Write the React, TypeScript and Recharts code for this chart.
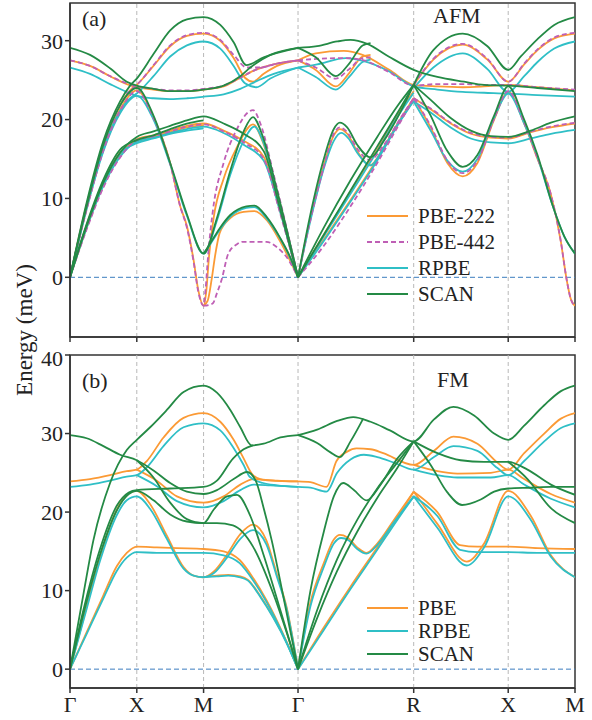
import React from "react";
import { LineChart, Line, XAxis, YAxis, ReferenceLine, ReferenceArea } from "recharts";

type Pt = [number, number];

// path positions along Γ-X-M-Γ-R-X-M (in units of the Γ-X length)
const kTicks = [0, 1, 2, 3.414, 5.146, 6.561, 7.561];
const kLabels = ["Γ", "X", "M", "Γ", "R", "X", "M"];
const K_MAX = 7.561;

const afmTicks = [0, 10, 20, 30];
const fmTicks = [0, 10, 20, 30, 40];

// AFM bands (meV), each band a list of [k, E]
const afmPbe222: Pt[][] = [
  [[0, 0], [0.25, 9.2], [0.5, 16.8], [0.75, 21.8], [0.9, 23.7], [1, 24.4], [1.25, 26.8], [1.5, 29.3], [1.75, 30.6], [2, 30.9], [2.25, 30.0], [2.45, 27.8], [2.62, 25.3], [2.74, 24.8], [2.9, 25.8], [3.1, 26.8], [3.414, 27.5]],
  [[0, 27.5], [0.3, 26.8], [0.6, 25.5], [0.85, 24.5], [1, 24.1], [1.25, 23.8], [1.5, 23.6], [1.75, 23.6], [2, 23.8], [2.3, 24.2], [2.55, 25.3], [2.75, 26.2], [3.05, 27.0], [3.414, 27.5]],
  [[0, 0], [0.25, 8.8], [0.5, 16.3], [0.75, 21.3], [1, 23.7], [1.25, 20.3], [1.5, 14.5], [1.65, 9.0], [1.75, 6.5], [1.85, 2.2], [1.92, -1.6], [2, -3.6], [2.04, -1.8], [2.08, 2.5], [2.15, 7.5], [2.3, 12.5], [2.5, 16.5], [2.74, 19.4], [2.88, 17.3], [3.1, 10.8], [3.414, 0]],
  [[0, 0], [0.25, 6.3], [0.5, 11.7], [0.75, 15.4], [1, 17.5], [1.25, 18.0], [1.5, 18.6], [1.75, 19.2], [2, 19.5], [2.3, 18.6], [2.6, 17.3], [2.9, 15.3], [3.15, 8.3], [3.414, 0]],
  [[0, 0], [0.25, 6.6], [0.5, 12.1], [0.75, 15.8], [1, 17.2], [1.25, 17.8], [1.5, 18.4], [1.75, 19.0], [2, 19.3]],
  [[2, -3.6], [2.06, -3.0], [2.12, -0.3], [2.17, 2.6], [2.24, 5.6], [2.4, 7.5], [2.6, 8.3], [2.76, 8.4], [2.95, 7.2], [3.15, 4.5], [3.414, 0]],
  [[3.414, 27.5], [3.68, 28.4], [4.1, 28.7], [4.38, 28.2], [4.78, 26.3], [5.146, 24.4], [5.5, 24.2], [5.88, 24.1], [6.2, 24.2], [6.561, 24.4], [7.0, 24.1], [7.561, 23.7]],
  [[3.414, 27.5], [3.68, 26.3], [3.98, 24.2], [4.18, 25.9], [4.38, 28.0], [4.5, 28.2]],
  [[5.146, 24.4], [5.44, 27.6], [5.88, 29.5], [6.25, 27.6], [6.561, 24.8], [6.8, 27.0], [7.0, 28.8], [7.25, 30.3], [7.561, 30.9]],
  [[3.414, 0], [3.8, 4.8], [4.2, 9.8], [4.6, 15.0], [4.9, 19.4], [5.146, 22.7]],
  [[3.414, 0], [3.8, 5.4], [4.2, 10.8], [4.6, 16.2], [4.9, 20.6], [5.146, 23.6]],
  [[3.414, 0], [3.6, 7.5], [3.8, 14.2], [3.95, 18.0], [4.04, 18.8], [4.15, 18.2], [4.3, 16.0], [4.49, 14.2], [4.7, 16.5], [4.95, 20.0], [5.146, 22.7]],
  [[5.146, 22.7], [5.4, 21.3], [5.7, 19.5], [6.0, 18.2], [6.3, 17.7], [6.561, 17.6], [6.9, 18.4], [7.2, 19.0], [7.561, 19.5]],
  [[5.146, 22.7], [5.4, 19.0], [5.65, 14.5], [5.88, 12.8], [6.1, 14.5], [6.35, 20.0], [6.561, 23.5], [6.8, 19.5], [7.0, 15.0], [7.2, 10.5], [7.35, 4.5], [7.43, 0], [7.5, -2.8], [7.561, -3.6]],
];

const afmPbe442: Pt[][] = [
  [[0, 0], [0.25, 9.2], [0.5, 16.8], [0.75, 21.8], [0.9, 23.7], [1, 24.4], [1.25, 26.9], [1.5, 29.4], [1.75, 30.7], [2, 31.0], [2.25, 30.1], [2.45, 28.2], [2.65, 26.6], [2.85, 26.6], [3.1, 27.1], [3.414, 27.5]],
  [[0, 27.5], [0.3, 26.8], [0.6, 25.5], [0.85, 24.6], [1, 24.2], [1.25, 23.9], [1.5, 23.7], [1.75, 23.7], [2, 23.9], [2.3, 24.3], [2.55, 25.3], [2.75, 26.2], [3.05, 27.0], [3.414, 27.5]],
  [[0, 0], [0.25, 8.6], [0.5, 16.1], [0.75, 21.1], [1, 23.6], [1.25, 20.2], [1.5, 14.4], [1.65, 9.0], [1.75, 6.3], [1.85, 2.0], [1.92, -1.8], [2, -3.6], [2.03, -1.5], [2.07, 3.0], [2.14, 8.5], [2.3, 14.5], [2.5, 18.8], [2.65, 20.8], [2.74, 21.2], [2.85, 19.5], [3.05, 13.0], [3.414, 0]],
  [[0, 0], [0.25, 6.1], [0.5, 11.4], [0.75, 15.2], [1, 17.4], [1.25, 17.9], [1.5, 18.5], [1.75, 19.1], [2, 19.4], [2.3, 18.5], [2.6, 17.1], [2.9, 15.0], [3.15, 8.0], [3.414, 0]],
  [[2, -3.6], [2.08, -3.5], [2.14, -3.3], [2.2, -2.0], [2.27, -0.3], [2.37, 3.0], [2.5, 4.2], [2.59, 4.5], [2.94, 4.5], [3.1, 3.8], [3.24, 2.6], [3.414, 0]],
  [[3.414, 27.5], [3.7, 27.7], [4.13, 27.8], [4.4, 27.5], [4.78, 26.0], [5.146, 24.3], [5.5, 24.5], [5.88, 24.5], [6.2, 24.4], [6.561, 24.4], [7.0, 24.1], [7.561, 23.8]],
  [[3.414, 27.5], [3.68, 26.6], [3.98, 25.2], [4.18, 26.4], [4.38, 27.8], [4.5, 27.9]],
  [[5.146, 24.4], [5.44, 27.7], [5.88, 29.6], [6.25, 27.7], [6.561, 24.8], [6.8, 27.1], [7.0, 28.9], [7.25, 30.4], [7.561, 31.0]],
  [[3.414, 0], [3.8, 4.0], [4.2, 9.0], [4.6, 14.5], [4.9, 19.0], [5.146, 22.7]],
  [[3.414, 0], [3.6, 7.3], [3.8, 14.0], [3.95, 18.2], [4.04, 19.0], [4.15, 18.4], [4.3, 16.3], [4.49, 14.9], [4.7, 16.8], [4.95, 20.2], [5.146, 22.7]],
  [[5.146, 22.7], [5.4, 21.4], [5.7, 19.6], [6.0, 18.3], [6.3, 17.8], [6.561, 17.7], [6.9, 18.5], [7.2, 19.1], [7.561, 19.6]],
  [[5.146, 22.7], [5.4, 19.2], [5.65, 14.8], [5.88, 13.2], [6.1, 14.8], [6.35, 20.1], [6.561, 23.6], [6.8, 19.6], [7.0, 15.1], [7.2, 10.5], [7.35, 4.5], [7.43, 0], [7.5, -2.8], [7.561, -3.6]],
];

const afmRpbe: Pt[][] = [
  [[0, 0], [0.25, 8.9], [0.5, 16.3], [0.75, 21.1], [0.9, 22.7], [1, 23.3], [1.25, 25.5], [1.5, 28.0], [1.75, 29.4], [2, 29.9], [2.25, 29.0], [2.45, 26.8], [2.62, 24.6], [2.79, 24.1], [3.0, 25.2], [3.414, 26.6]],
  [[0, 26.6], [0.3, 25.8], [0.6, 24.5], [0.85, 23.5], [1, 23.0], [1.25, 22.7], [1.5, 22.6], [1.75, 22.7], [2, 22.9], [2.3, 23.2], [2.55, 23.9], [2.8, 24.9], [3.05, 25.8], [3.414, 26.6]],
  [[0, 0], [0.25, 8.7], [0.5, 16.0], [0.75, 20.8], [1, 23.0], [1.25, 20.0], [1.5, 14.3], [1.75, 7.8], [2, 3.0], [2.2, 7.2], [2.4, 13.0], [2.6, 17.3], [2.76, 19.1], [2.9, 17.0], [3.1, 10.8], [3.414, 0]],
  [[0, 0], [0.25, 6.3], [0.5, 11.6], [0.75, 15.3], [1, 17.2], [1.25, 17.7], [1.5, 18.3], [1.75, 18.8], [2, 19.1], [2.3, 18.3], [2.6, 16.8], [2.9, 14.8], [3.15, 8.2], [3.414, 0]],
  [[0, 0], [0.25, 6.6], [0.5, 12.0], [0.75, 15.7], [1, 17.0], [1.25, 17.6], [1.5, 18.2], [1.75, 18.6], [2, 18.9]],
  [[2, 3.0], [2.1, 4.2], [2.24, 6.0], [2.4, 7.7], [2.64, 8.8], [2.76, 8.9], [2.95, 7.4], [3.14, 5.0], [3.3, 2.4], [3.414, 0]],
  [[3.414, 26.6], [3.7, 27.0], [4.13, 27.8], [4.4, 27.4], [4.78, 26.1], [5.146, 24.2], [5.5, 23.8], [5.88, 23.5], [6.2, 23.4], [6.561, 23.3], [7.0, 23.1], [7.561, 22.9]],
  [[3.414, 26.6], [3.68, 25.4], [3.98, 23.8], [4.18, 25.4], [4.38, 27.3], [4.5, 27.6]],
  [[5.146, 24.0], [5.44, 26.6], [5.88, 28.4], [6.25, 26.4], [6.561, 23.5], [6.8, 25.5], [7.0, 27.3], [7.25, 29.0], [7.561, 29.9]],
  [[3.414, 0], [3.8, 4.6], [4.2, 9.6], [4.6, 14.8], [4.9, 19.2], [5.146, 22.4]],
  [[3.414, 0], [3.8, 5.2], [4.2, 10.6], [4.6, 16.0], [4.9, 20.3], [5.146, 23.4]],
  [[3.414, 0], [3.6, 7.2], [3.8, 13.8], [3.95, 17.3], [4.06, 18.3], [4.17, 17.6], [4.3, 15.8], [4.5, 14.2], [4.7, 16.5], [4.95, 20.0], [5.146, 22.4]],
  [[5.146, 22.3], [5.4, 20.9], [5.7, 19.0], [6.0, 17.6], [6.3, 17.1], [6.561, 17.0], [6.9, 17.6], [7.2, 18.2], [7.561, 18.7]],
  [[5.146, 22.3], [5.4, 18.6], [5.65, 14.8], [5.88, 13.4], [6.1, 15.0], [6.35, 20.2], [6.561, 23.3], [6.8, 19.5], [7.0, 15.2], [7.23, 9.0], [7.4, 5.2], [7.561, 3.0]],
];

const afmScan: Pt[][] = [
  [[0, 0], [0.25, 9.5], [0.5, 17.3], [0.75, 22.3], [0.9, 24.3], [1, 25.2], [1.25, 28.3], [1.5, 31.3], [1.75, 32.7], [2, 33.0], [2.25, 32.0], [2.45, 29.8], [2.64, 26.9], [2.9, 27.9], [3.414, 29.1]],
  [[0, 29.1], [0.3, 28.2], [0.6, 26.5], [0.85, 24.8], [1, 24.3], [1.25, 23.9], [1.5, 23.6], [1.75, 23.6], [2, 23.8], [2.3, 24.3], [2.55, 25.5], [2.7, 26.6], [3.0, 28.2], [3.414, 29.1]],
  [[0, 0], [0.25, 9.0], [0.5, 16.8], [0.75, 21.8], [1, 24.0], [1.25, 20.5], [1.5, 14.5], [1.75, 8.0], [2, 3.0], [2.2, 7.5], [2.4, 13.5], [2.6, 18.5], [2.74, 20.3], [2.88, 18.0], [3.1, 11.0], [3.414, 0]],
  [[0, 0], [0.25, 6.5], [0.5, 12.0], [0.75, 15.8], [1, 17.8], [1.25, 18.5], [1.5, 19.2], [1.75, 19.9], [2, 20.4], [2.3, 19.5], [2.6, 18.2], [2.9, 16.0], [3.15, 8.5], [3.414, 0]],
  [[0, 0], [0.25, 6.8], [0.5, 12.4], [0.75, 16.2], [1, 17.4], [1.25, 18.0], [1.5, 18.8], [1.75, 19.5], [2, 19.9]],
  [[2, 3.0], [2.1, 4.3], [2.24, 6.2], [2.4, 7.9], [2.64, 9.0], [2.76, 9.1], [2.95, 7.6], [3.14, 5.1], [3.3, 2.5], [3.414, 0]],
  [[3.414, 29.1], [3.7, 29.3], [4.0, 29.9], [4.2, 30.1], [4.45, 29.6], [4.77, 28.0], [5.146, 26.3], [5.5, 25.4], [5.9, 24.8], [6.2, 24.4], [6.561, 24.3], [7.0, 24.0], [7.561, 23.6]],
  [[3.414, 29.1], [3.68, 27.9], [3.98, 25.5], [4.18, 27.1], [4.38, 29.4], [4.5, 29.7]],
  [[5.146, 24.4], [5.44, 28.8], [5.88, 30.9], [6.25, 29.3], [6.561, 26.3], [6.75, 28.0], [7.0, 30.2], [7.25, 32.0], [7.561, 33.0]],
  [[3.414, 0], [3.8, 6.3], [4.2, 12.3], [4.6, 17.8], [4.9, 21.7], [5.146, 24.4]],
  [[3.414, 0], [3.8, 5.4], [4.2, 11.0], [4.6, 16.6], [4.9, 20.8], [5.146, 24.4]],
  [[3.414, 0], [3.6, 8.0], [3.8, 15.0], [3.95, 18.8], [4.04, 19.6], [4.15, 19.0], [4.3, 16.8], [4.5, 15.2], [4.7, 17.3], [4.95, 21.0], [5.146, 24.4]],
  [[5.146, 24.4], [5.4, 22.5], [5.7, 20.2], [6.0, 18.6], [6.3, 17.9], [6.561, 17.8], [6.9, 18.6], [7.2, 19.6], [7.561, 20.4]],
  [[5.146, 24.4], [5.4, 20.5], [5.65, 16.0], [5.88, 14.0], [6.1, 15.5], [6.35, 20.5], [6.561, 24.2], [6.8, 20.0], [7.0, 15.5], [7.23, 9.0], [7.4, 5.2], [7.561, 3.0]],
];

// FM bands (meV)
const fmPbe: Pt[][] = [
  [[0, 23.9], [0.3, 24.2], [0.6, 24.7], [0.85, 25.2], [1, 25.4], [1.15, 26.5], [1.4, 29.5], [1.7, 32.0], [2, 32.6], [2.25, 31.5], [2.45, 29.2], [2.59, 27.0], [2.72, 24.9], [2.85, 24.2], [3.1, 24.0], [3.414, 23.9]],
  [[1, 25.4], [1.3, 24.0], [1.6, 22.0], [2, 21.2], [2.3, 22.0], [2.55, 23.5], [2.75, 24.2], [3.0, 24.0], [3.414, 23.9]],
  [[0, 0], [0.25, 8.0], [0.45, 14.3], [0.7, 20.3], [0.85, 22.2], [1, 22.7], [1.2, 21.0], [1.45, 17.0], [1.7, 13.0], [1.85, 11.9], [2, 11.7], [2.15, 12.4], [2.35, 14.6], [2.55, 17.2], [2.74, 18.4], [2.94, 16.4], [3.1, 12.0], [3.24, 8.0], [3.414, 0]],
  [[0, 0], [0.25, 4.7], [0.5, 9.4], [0.7, 13.1], [0.85, 14.8], [1, 15.6], [1.3, 15.5], [1.6, 15.4], [2, 15.3], [2.3, 15.0], [2.54, 13.9], [2.75, 11.5], [2.94, 8.8], [3.2, 4.3], [3.414, 0]],
  [[2, 11.7], [2.2, 11.9], [2.37, 12.0], [2.55, 11.8], [2.66, 11.4], [2.85, 9.3], [3.04, 6.7], [3.25, 3.3], [3.414, 0]],
  [[3.414, 23.9], [3.6, 23.8], [3.84, 23.2], [3.99, 26.5], [4.15, 27.7], [4.29, 28.1], [4.5, 28.0], [4.69, 27.5], [5.146, 26.0], [5.45, 27.8], [5.74, 29.6], [6.1, 28.7], [6.4, 26.3], [6.561, 25.4], [6.8, 27.5], [7.1, 30.0], [7.35, 31.9], [7.561, 32.6]],
  [[5.146, 26.0], [5.5, 25.2], [5.8, 24.9], [6.3, 25.0], [6.561, 25.4], [6.8, 24.2], [7.2, 22.3], [7.561, 21.2]],
  [[3.414, 0], [3.6, 8.5], [3.8, 13.5], [3.95, 16.5], [4.04, 17.1], [4.15, 16.8], [4.3, 15.5], [4.44, 14.8], [4.6, 16.0], [4.85, 19.0], [5.146, 22.6]],
  [[3.414, 0], [3.8, 5.3], [4.2, 10.5], [4.6, 15.5], [4.9, 19.3], [5.146, 22.6]],
  [[5.146, 22.6], [5.5, 20.0], [5.84, 15.8], [6.1, 15.6], [6.561, 15.6], [7.0, 15.4], [7.561, 15.3]],
  [[5.146, 22.6], [5.5, 18.5], [5.94, 13.7], [6.2, 16.0], [6.561, 22.7], [6.9, 19.5], [7.2, 14.5], [7.561, 11.7]],
];

const fmRpbe: Pt[][] = [
  [[0, 23.2], [0.3, 23.5], [0.6, 24.0], [0.85, 24.5], [1, 24.7], [1.15, 25.7], [1.4, 28.4], [1.7, 30.8], [2, 31.3], [2.25, 30.4], [2.44, 28.3], [2.6, 26.0], [2.69, 24.5], [2.89, 23.7], [3.1, 23.4], [3.414, 23.2]],
  [[1, 24.7], [1.3, 23.3], [1.6, 21.4], [2, 20.6], [2.3, 21.4], [2.55, 22.8], [2.75, 23.5], [3.0, 23.4], [3.414, 23.2]],
  [[0, 0], [0.25, 7.7], [0.45, 13.8], [0.7, 19.6], [0.85, 21.5], [1, 22.0], [1.2, 20.4], [1.45, 16.6], [1.7, 12.8], [1.85, 11.9], [2, 11.7], [2.15, 12.2], [2.35, 14.2], [2.55, 16.6], [2.74, 17.7], [2.94, 15.9], [3.1, 11.7], [3.24, 7.8], [3.414, 0]],
  [[0, 0], [0.25, 4.5], [0.5, 9.0], [0.7, 12.5], [0.85, 14.2], [1, 14.9], [1.3, 14.8], [1.6, 14.8], [2, 14.8], [2.3, 14.5], [2.54, 13.5], [2.75, 11.2], [2.94, 8.6], [3.2, 4.2], [3.414, 0]],
  [[2, 11.7], [2.2, 11.8], [2.37, 11.9], [2.55, 11.7], [2.66, 11.3], [2.85, 9.2], [3.04, 6.6], [3.25, 3.2], [3.414, 0]],
  [[3.414, 23.2], [3.6, 23.1], [3.84, 22.6], [4.0, 25.0], [4.2, 26.7], [4.4, 27.3], [4.6, 27.0], [4.85, 26.3], [5.146, 25.4], [5.45, 27.0], [5.74, 28.4], [6.1, 27.8], [6.4, 25.6], [6.561, 24.7], [6.8, 26.5], [7.1, 29.0], [7.35, 30.7], [7.561, 31.3]],
  [[5.146, 25.4], [5.5, 24.7], [5.8, 24.4], [6.3, 24.4], [6.561, 24.7], [6.8, 23.5], [7.2, 21.7], [7.561, 20.6]],
  [[3.414, 0], [3.6, 8.0], [3.8, 13.0], [3.95, 16.0], [4.06, 16.7], [4.17, 16.4], [4.3, 15.3], [4.44, 14.7], [4.6, 15.8], [4.85, 18.7], [5.146, 22.0]],
  [[3.414, 0], [3.8, 5.0], [4.2, 10.2], [4.6, 15.2], [4.9, 19.0], [5.146, 22.0]],
  [[5.146, 22.0], [5.5, 19.5], [5.84, 15.2], [6.1, 14.9], [6.561, 14.9], [7.0, 14.8], [7.561, 14.8]],
  [[5.146, 22.0], [5.5, 18.0], [5.94, 13.2], [6.2, 15.5], [6.561, 22.0], [6.9, 19.0], [7.2, 14.3], [7.561, 11.7]],
];

const fmScan: Pt[][] = [
  [[0, 0], [0.2, 9.5], [0.35, 16.4], [0.6, 23.7], [0.85, 27.9], [1, 29.2], [1.2, 30.8], [1.45, 33.0], [1.7, 35.3], [2, 36.1], [2.2, 35.2], [2.4, 33.0], [2.55, 30.8], [2.72, 28.5], [2.9, 28.7], [3.15, 29.5], [3.414, 29.8]],
  [[0, 29.8], [0.25, 29.4], [0.5, 28.4], [0.75, 27.3], [1, 26.6], [1.25, 25.3], [1.5, 23.7], [1.75, 22.6], [2, 22.3], [2.2, 22.8], [2.45, 24.2], [2.65, 25.1], [2.78, 24.0], [2.9, 20.5], [3.02, 16.4], [3.2, 9.0], [3.414, 0]],
  [[0, 0], [0.2, 7.5], [0.45, 15.3], [0.7, 20.8], [0.88, 22.5], [1, 22.8], [1.5, 23.0], [2, 23.2], [2.2, 24.0], [2.44, 26.8], [2.6, 28.0], [2.74, 28.5]],
  [[0, 0], [0.2, 7.0], [0.45, 14.6], [0.7, 20.2], [0.88, 22.3], [1, 22.7], [1.25, 21.5], [1.5, 19.7], [1.75, 18.8], [2, 18.6], [2.2, 18.6], [2.44, 18.3], [2.74, 15.6], [3.04, 9.7], [3.25, 4.5], [3.414, 0]],
  [[1, 26.6], [1.25, 24.4], [1.5, 21.2], [1.75, 19.1], [2, 18.6], [2.15, 20.3], [2.35, 22.0], [2.5, 22.2], [2.7, 19.5], [2.9, 14.5], [3.15, 7.5], [3.414, 0]],
  [[3.414, 29.8], [3.7, 30.5], [4.0, 31.6], [4.24, 32.1], [4.5, 31.5], [4.79, 30.4], [5.146, 29.0], [5.45, 31.8], [5.74, 33.4], [6.05, 32.3], [6.35, 30.0], [6.561, 29.2], [6.8, 31.0], [7.1, 33.6], [7.35, 35.4], [7.561, 36.1]],
  [[3.414, 29.8], [3.7, 28.8], [3.9, 27.6], [4.04, 27.0], [4.2, 29.0], [4.39, 31.9]],
  [[3.414, 0], [3.6, 10.0], [3.8, 17.5], [3.95, 22.0], [4.09, 23.7], [4.25, 22.8], [4.44, 21.5], [4.65, 23.5], [4.9, 26.8], [5.146, 29.0]],
  [[3.414, 0], [3.7, 7.5], [4.0, 14.0], [4.3, 19.0], [4.6, 23.0], [4.9, 26.3], [5.146, 29.0]],
  [[3.414, 0], [3.7, 6.5], [4.0, 12.5], [4.3, 17.5], [4.6, 21.8], [4.9, 25.6], [5.146, 29.0]],
  [[5.146, 29.0], [5.5, 27.5], [5.85, 26.6], [6.2, 26.4], [6.561, 26.4], [6.85, 25.4], [7.2, 23.5], [7.561, 22.2]],
  [[5.146, 29.0], [5.4, 26.0], [5.65, 22.5], [5.87, 20.9], [6.15, 21.6], [6.35, 22.6], [6.561, 23.0], [6.9, 23.1], [7.2, 23.2], [7.561, 23.2]],
  [[6.561, 26.4], [6.85, 24.2], [7.2, 20.5], [7.561, 18.6]],
];

const ORANGE = "#fb9a35";
const PURPLE = "#bf5fb5";
const CYAN = "#2fbfc6";
const GREEN = "#248a45";
const SERIF = "'Liberation Serif', 'Times New Roman', serif";

type Series = { name: string; color: string; dash?: string; bands: Pt[][] };

const afmSeries: Series[] = [
  { name: "PBE-222", color: ORANGE, bands: afmPbe222 },
  { name: "RPBE", color: CYAN, bands: afmRpbe },
  { name: "PBE-442", color: PURPLE, dash: "5 3", bands: afmPbe442 },
  { name: "SCAN", color: GREEN, bands: afmScan },
];
const afmLegend = ["PBE-222", "PBE-442", "RPBE", "SCAN"];

const fmSeries: Series[] = [
  { name: "PBE", color: ORANGE, bands: fmPbe },
  { name: "RPBE", color: CYAN, bands: fmRpbe },
  { name: "SCAN", color: GREEN, bands: fmScan },
];
const fmLegend = ["PBE", "RPBE", "SCAN"];

const tickStyle = { fontSize: 22, fill: "#222", fontFamily: SERIF };

function Panel({
  series,
  yDomain,
  yTicks,
  height,
  top,
  bottom,
  showLabels,
}: {
  series: Series[];
  yDomain: [number, number];
  yTicks: number[];
  height: number;
  top: number;
  bottom: number;
  showLabels: boolean;
}) {
  return (
    <LineChart width={592} height={height} margin={{ top, right: 17, bottom: 0, left: 0 }}>
      <XAxis
        type="number"
        dataKey="k"
        domain={[0, K_MAX]}
        ticks={kTicks}
        allowDataOverflow
        height={bottom}
        tick={tickStyle}
        tickFormatter={(v: number) => (showLabels ? kLabels[kTicks.indexOf(v)] ?? "" : "")}
        tickSize={5}
        tickMargin={3}
        stroke="#333"
        strokeWidth={1.5}
      />
      <YAxis
        type="number"
        domain={yDomain}
        ticks={yTicks}
        allowDataOverflow
        width={70}
        tick={tickStyle}
        tickSize={5}
        tickMargin={2}
        stroke="#333"
        strokeWidth={1.5}
      />
      <ReferenceArea
        x1={0}
        x2={K_MAX}
        y1={yDomain[0]}
        y2={yDomain[1]}
        fill="none"
        stroke="#333"
        strokeWidth={1.5}
        ifOverflow="visible"
      />
      {kTicks.slice(1, -1).map((k) => (
        <ReferenceLine key={k} x={k} stroke="#b8b8b8" strokeDasharray="4 3" />
      ))}
      <ReferenceLine y={0} stroke="#3b7dbf" strokeDasharray="5 3" />
      {series.flatMap((s) =>
        s.bands.map((band, i) => (
          <Line
            key={`${s.name}-${i}`}
            data={band.map(([k, e]) => ({ k, e }))}
            dataKey="e"
            type="monotone"
            stroke={s.color}
            strokeWidth={1.8}
            strokeDasharray={s.dash}
            dot={false}
            activeDot={false}
            isAnimationActive={false}
          />
        ))
      )}
    </LineChart>
  );
}

function Legend({ items, series, left, top, gap }: { items: string[]; series: Series[]; left: number; top: number; gap: number }) {
  return (
    <div style={{ position: "absolute", left, top }}>
      {items.map((name, i) => {
        const s = series.find((x) => x.name === name)!;
        return (
          <div key={name} style={{ position: "absolute", left: 0, top: i * gap, display: "flex", alignItems: "center", whiteSpace: "nowrap" }}>
            <svg width={44} height={10}>
              <line x1={1} y1={5} x2={42} y2={5} stroke={s.color} strokeWidth={2} strokeDasharray={s.dash} />
            </svg>
            <span style={{ marginLeft: 8, fontSize: 21, fontFamily: SERIF, color: "#222", lineHeight: "20px" }}>{name}</span>
          </div>
        );
      })}
    </div>
  );
}

const label = (text: string, left: number, top: number) => (
  <div style={{ position: "absolute", left, top, fontSize: 22, fontFamily: SERIF, color: "#222", lineHeight: "22px" }}>{text}</div>
);

export default function App() {
  return (
    <div style={{ position: "absolute", left: 0, top: 0, width: 592, height: 720, background: "#fff" }}>
      <div style={{ position: "absolute", left: 0, top: 0 }}>
        <Panel series={afmSeries} yDomain={[-7.57, 34.78]} yTicks={afmTicks} height={345} top={3} bottom={8} showLabels={false} />
      </div>
      <div style={{ position: "absolute", left: 0, top: 345 }}>
        <Panel series={fmSeries} yDomain={[-2.4, 40]} yTicks={fmTicks} height={375} top={10} bottom={32} showLabels />
      </div>
      {label("(a)", 82, 8)}
      {label("AFM", 433, 5)}
      {label("(b)", 82, 370)}
      {label("FM", 437, 369)}
      <div
        style={{
          position: "absolute",
          left: 25,
          top: 330,
          transform: "translate(-50%, -50%) rotate(-90deg)",
          whiteSpace: "nowrap",
          fontSize: 23,
          fontFamily: SERIF,
          color: "#222",
        }}
      >
        Energy (meV)
      </div>
      <Legend items={afmLegend} series={afmSeries} left={366} top={206} gap={26} />
      <Legend items={fmLegend} series={fmSeries} left={366} top={598} gap={23} />
    </div>
  );
}
